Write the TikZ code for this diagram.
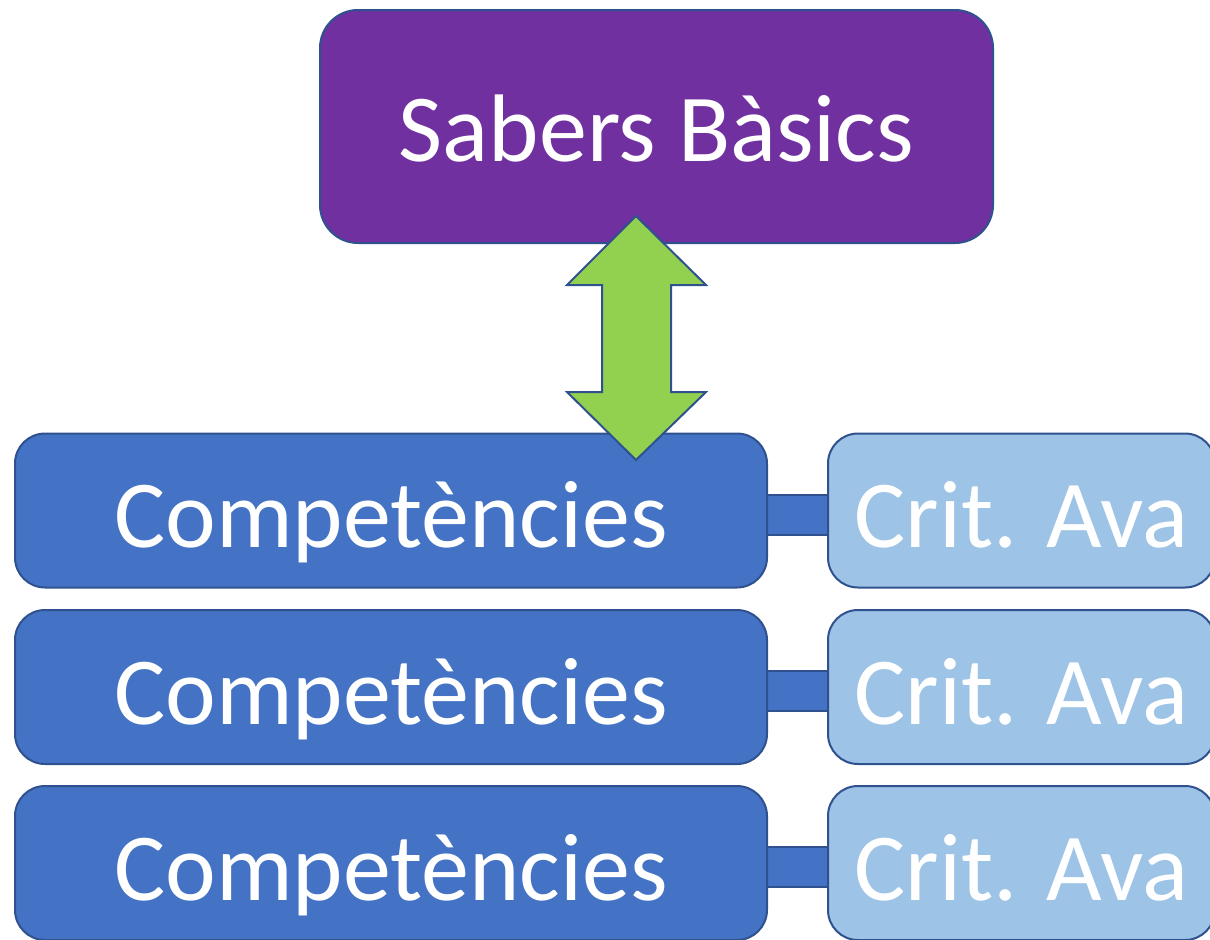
\documentclass[tikz,border=0pt]{standalone}
\usepackage{fontspec}
\setmainfont{Carlito}
\usetikzlibrary{backgrounds,calc}

\definecolor{sabPurple}{HTML}{7030A0}
\definecolor{compBlue}{HTML}{4472C4}
\definecolor{critBlue}{HTML}{9DC3E6}
\definecolor{edgeBlue}{HTML}{2F528F}
\definecolor{arrowGreen}{HTML}{92D050}

\newdimen\pu \pu=0.75pt

\tikzset{
  box/.style={draw=edgeBlue, line width=1.5pt, text=white, inner sep=0pt,
    font=\fontsize{72}{86}\selectfont},
  sabbox/.style={box, fill=sabPurple, rounded corners=38\pu,
    minimum width=673\pu, minimum height=233\pu,
    text height=53pt, text depth=0pt},
  compbox/.style={box, fill=compBlue, rounded corners=30\pu,
    minimum width=752\pu, minimum height=154\pu,
    text height=56pt, text depth=0pt},
  critbox/.style={box, fill=critBlue, rounded corners=30\pu,
    minimum width=387\pu, minimum height=154\pu,
    text height=56pt, text depth=0pt},
  bar/.style={draw=edgeBlue, line width=1.5pt, fill=compBlue},
}

\begin{document}
\begin{tikzpicture}[x=0.75pt,y=-0.75pt]
\useasboundingbox (0,0) rectangle (1210,939);

\node[sabbox] (sab) at (656.5,126.5) {Sabers Bàsics};

\foreach \i/\y in {1/510.5,2/687,3/863}{
  \node[compbox] (comp\i) at (391,\y) {Competències};
  \node[critbox] (crit\i) at (1021.5,\y) {Crit. Ava};
  \begin{scope}[on background layer]
    \draw[bar] ($(comp\i.east)+(-5,-16)$) rectangle ($(crit\i.west)+(5,24)$);
  \end{scope}
}

% double arrow between the top box and the first row
\draw[draw=edgeBlue, line width=1.5pt, fill=arrowGreen, line join=miter]
  (636,216) -- (706,285) -- (671,285) -- (671,392) -- (706,392)
  -- (636,460) -- (567,392) -- (602,392) -- (602,285) -- (567,285) -- cycle;

\end{tikzpicture}
\end{document}
